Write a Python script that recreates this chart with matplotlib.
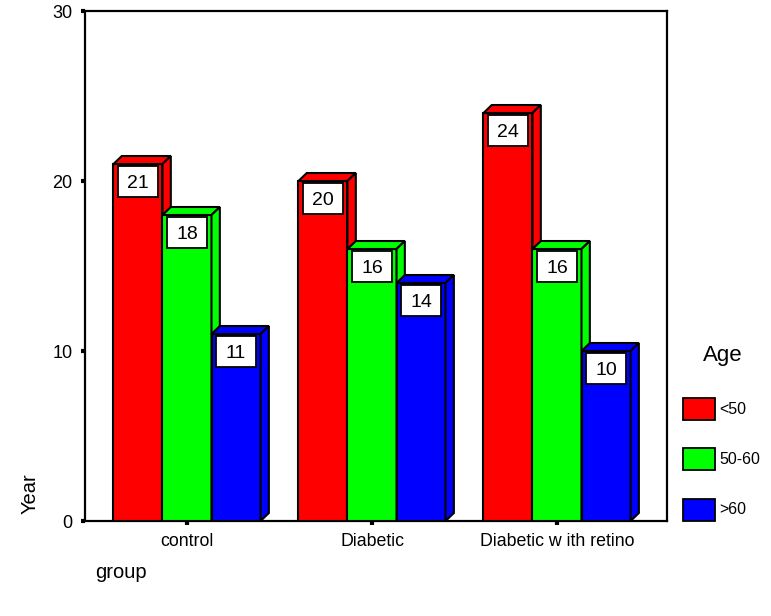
import matplotlib
matplotlib.use("Agg")
import matplotlib.pyplot as plt
from matplotlib.patches import Polygon, Rectangle
from matplotlib.transforms import IdentityTransform

plt.rcParams['font.family'] = ['Liberation Sans', 'DejaVu Sans']

groups = ["control", "Diabetic", "Diabetic w ith retino"]
age_bands = ["<50", "50-60", ">60"]
values = {
    "<50": [21, 20, 24],
    "50-60": [18, 16, 16],
    ">60": [11, 14, 10],
}
colors = {"<50": "#ff0000", "50-60": "#00ff00", ">60": "#0000ff"}

W, H, DPI = 771, 616, 100
fig = plt.figure(figsize=(W / DPI, H / DPI), dpi=DPI)
ax = fig.add_axes([85 / W, 1 - 521 / H, (667 - 85) / W, (521 - 11) / H])
ax.set_xlim((85 - 187) / 185, (667 - 187) / 185)
ax.set_ylim(0, 30)

bar_w = 0.265
depth_x = 0.045
depth_y = 0.47
lw = 1.5
box_w, box_h, box_gap = 40, 31, 2   # value label box size in pixels

for gi, g in enumerate(groups):
    for bi, band in enumerate(age_bands):
        v = values[band][gi]
        x0 = gi + (bi - 1.5) * bar_w
        x1 = x0 + bar_w
        c = colors[band]
        ax.bar(x0, v, width=bar_w, align='edge', color=c, edgecolor='black',
               linewidth=lw, zorder=3 + bi * 3)
        top = Polygon([(x0, v), (x1, v), (x1 + depth_x, v + depth_y), (x0 + depth_x, v + depth_y)],
                      closed=True, fc=c, ec='black', lw=lw, zorder=4 + bi * 3)
        side = Polygon([(x1, 0), (x1, v), (x1 + depth_x, v + depth_y), (x1 + depth_x, depth_y)],
                       closed=True, fc=c, ec='black', lw=lw, zorder=4 + bi * 3)
        ax.add_patch(top)
        ax.add_patch(side)
        # value label in a white box just under the front top edge
        px, py = ax.transData.transform((x0 + bar_w / 2, v))
        ax.add_patch(Rectangle((px - box_w / 2, py - box_gap - box_h), box_w, box_h,
                               transform=IdentityTransform(), fc='white', ec='black',
                               lw=1.3, zorder=20, clip_on=False))
        ax.annotate(f"{v}", xy=(x0 + bar_w / 2, v),
                    xytext=(0, -box_gap - box_h / 2), textcoords='offset pixels',
                    ha='center', va='center_baseline', fontsize=14, zorder=21,
                    annotation_clip=False)

ax.set_yticks([0, 10, 20, 30])
ax.set_xticks(range(len(groups)))
ax.set_xticklabels(groups)
ax.tick_params(axis='both', direction='out', length=3, width=3, color='black', labelsize=13)
ax.tick_params(axis='x', labelsize=12.8, pad=6)
ax.tick_params(axis='y', pad=6)
for s in ax.spines.values():
    s.set_linewidth(1.6)

fig.text(30 / W, 1 - 494 / H, "Year", rotation=90, ha='center', va='center', fontsize=14.5)
fig.text(95 / W, 1 - 572 / H, "group", ha='left', va='center', fontsize=14.5)

# legend
fig.text(723 / W, 1 - 355 / H, "Age", ha='center', va='center', fontsize=16)
leg_tops = [398, 448, 499]
for band, t in zip(age_bands, leg_tops):
    fig.add_artist(Rectangle((683 / W, 1 - (t + 22) / H), 32 / W, 22 / H,
                             transform=fig.transFigure, fc=colors[band], ec='black', lw=1.3))
    fig.text(719 / W, 1 - (t + 11) / H, band, ha='left', va='center', fontsize=11.5)

fig.savefig("out.png", dpi=DPI)
